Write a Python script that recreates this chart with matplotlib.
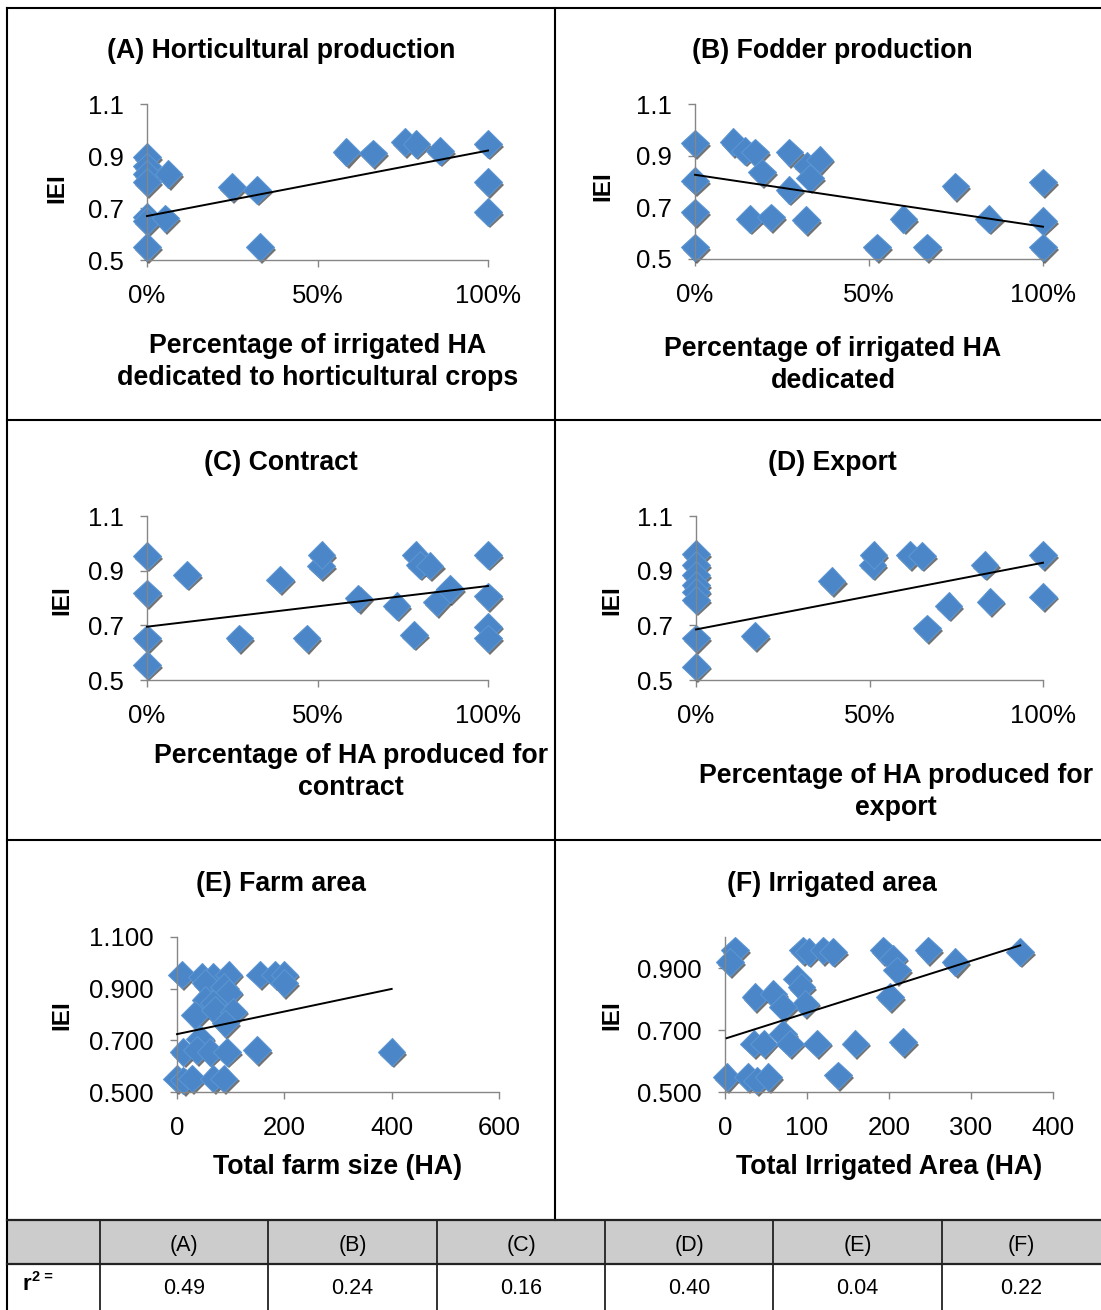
import matplotlib
matplotlib.use('Agg')
import matplotlib.pyplot as plt
import matplotlib.patheffects as pe
from matplotlib.ticker import FixedLocator, FuncFormatter
import numpy as np

plt.rcParams['font.family'] = ['Liberation Sans', 'DejaVu Sans']

# ---------------- data ----------------
A_x = [0, 0, 0, 0, 0.063, 0, 0, 0.054, 0, 0.249, 0.322, 0.332, 0.585, 0.663, 0.756, 0.79, 0.859, 1.0, 1.0, 1.0]
A_y = [0.896, 0.86, 0.83, 0.80, 0.83, 0.666, 0.65, 0.66, 0.55, 0.78, 0.77, 0.55, 0.915, 0.91, 0.953, 0.947, 0.92, 0.947, 0.80, 0.685]
A_fit = (0.669, 0.252)

B_x = [0, 0, 0, 0, 0.11, 0.144, 0.173, 0.192, 0.158, 0.218, 0.271, 0.271, 0.321, 0.358, 0.331, 0.319,
       0.523, 0.599, 0.666, 0.748, 0.844, 1.0, 1.0, 1.0]
B_y = [0.948, 0.803, 0.68, 0.545, 0.952, 0.919, 0.913, 0.835, 0.655, 0.661, 0.913, 0.768, 0.861, 0.885, 0.814, 0.651,
       0.545, 0.655, 0.545, 0.781, 0.655, 0.797, 0.648, 0.545]
B_fit = (0.826, -0.201)

C_x = [0, 0, 0, 0, 0.117, 0.271, 0.39, 0.468, 0.51, 0.512, 0.62, 0.732, 0.783, 0.788, 0.80, 0.829, 0.849, 0.888,
       1.0, 1.0, 1.0, 1.0]
C_y = [0.954, 0.817, 0.652, 0.555, 0.885, 0.652, 0.867, 0.652, 0.918, 0.958, 0.799, 0.771, 0.665, 0.958, 0.921, 0.918,
       0.784, 0.833, 0.958, 0.806, 0.695, 0.652]
C_fit = (0.695, 0.149)

D_x = [0, 0, 0, 0, 0, 0, 0, 0, 0.17, 0.391, 0.509, 0.512, 0.617, 0.651, 0.665, 0.728, 0.832, 0.848, 1.0, 1.0]
D_y = [0.961, 0.921, 0.884, 0.848, 0.823, 0.793, 0.652, 0.549, 0.661, 0.862, 0.921, 0.957, 0.957, 0.954, 0.689, 0.771,
       0.921, 0.787, 0.957, 0.805]
D_fit = (0.685, 0.244)

E_x = [9, 46, 68, 96, 53, 87, 155, 183, 200, 200, 96, 53, 68, 34, 71, 105, 90, 43, 12, 37, 62, 93, 149, 400,
       0, 12, 28, 68, 87]
E_y = [0.954, 0.947, 0.947, 0.954, 0.921, 0.908, 0.954, 0.954, 0.954, 0.921, 0.885, 0.856, 0.843, 0.798, 0.817,
       0.811, 0.766, 0.707, 0.655, 0.662, 0.655, 0.655, 0.662, 0.655, 0.552, 0.545, 0.552, 0.552, 0.552]
E_fit = (0.724, 0.0004375)

F_x = [12, 6, 95, 102, 120, 132, 193, 205, 210, 248, 281, 360, 88, 93, 98, 37, 59, 71, 201, 71, 35, 47, 79, 112,
       159, 217, 2, 28, 39, 53, 138]
F_y = [0.957, 0.919, 0.957, 0.952, 0.957, 0.952, 0.957, 0.930, 0.892, 0.957, 0.919, 0.952, 0.866, 0.839, 0.785,
       0.806, 0.817, 0.774, 0.806, 0.687, 0.656, 0.656, 0.656, 0.656, 0.656, 0.661, 0.548, 0.548, 0.537, 0.548, 0.554]
F_fit = (0.672, 0.000836)

titles = ["(A) Horticultural production", "(B) Fodder production", "(C) Contract",
          "(D) Export", "(E) Farm area", "(F) Irrigated area"]
xlabels = [["Percentage of irrigated HA", "dedicated to horticultural crops"],
           ["Percentage of irrigated HA", "dedicated"],
           ["Percentage of HA produced for", "contract"],
           ["Percentage of HA produced for", "export"],
           ["Total farm size (HA)"],
           ["Total Irrigated Area (HA)"]]
ylabel = "IEI"

table_cols = ["(A)", "(B)", "(C)", "(D)", "(E)", "(F)"]
r2_values = ["0.49", "0.24", "0.16", "0.40", "0.04", "0.22"]

# ---------------- layout ----------------
W, H = 1101, 1310
fig = plt.figure(figsize=(W / 100, H / 100), dpi=100)

def ax_at(x0, x1, y_top, y_bot):
    return fig.add_axes([x0 / W, 1 - y_bot / H, (x1 - x0) / W, (y_bot - y_top) / H])

ov = fig.add_axes([0, 0, 1, 1], zorder=-1)
ov.set_xlim(0, W)
ov.set_ylim(H, 0)
ov.axis('off')

BLUE = '#4a86c8'
GRAY = '#868686'

pct = FuncFormatter(lambda v, p: f"{v * 100:.0f}%")
f1 = FuncFormatter(lambda v, p: f"{v:.1f}")
f3 = FuncFormatter(lambda v, p: f"{v:.3f}")
f0 = FuncFormatter(lambda v, p: f"{v:.0f}")

panels = [
    dict(x=A_x, y=A_y, fit=A_fit, box=(147, 488, 104, 260), xlim=(0, 1), xt=[0, 0.5, 1], xf=pct,
         ylim=(0.5, 1.1), yt=[0.5, 0.7, 0.9, 1.1], yf=f1,
         tpos=(281, 51), lpos=(318, 346), ypos=(57, 188)),
    dict(x=B_x, y=B_y, fit=B_fit, box=(695, 1043, 104, 259), xlim=(0, 1), xt=[0, 0.5, 1], xf=pct,
         ylim=(0.5, 1.1), yt=[0.5, 0.7, 0.9, 1.1], yf=f1,
         tpos=(832, 51), lpos=(833, 349), ypos=(603, 186)),
    dict(x=C_x, y=C_y, fit=C_fit, box=(147, 488, 516, 680), xlim=(0, 1), xt=[0, 0.5, 1], xf=pct,
         ylim=(0.5, 1.1), yt=[0.5, 0.7, 0.9, 1.1], yf=f1,
         tpos=(281, 463), lpos=(351, 756), ypos=(62, 600)),
    dict(x=D_x, y=D_y, fit=D_fit, box=(696, 1043, 516, 680), xlim=(0, 1), xt=[0, 0.5, 1], xf=pct,
         ylim=(0.5, 1.1), yt=[0.5, 0.7, 0.9, 1.1], yf=f1,
         tpos=(832, 463), lpos=(896, 776), ypos=(612, 600)),
    dict(x=E_x, y=E_y, fit=E_fit, box=(177, 499, 937, 1092), xlim=(0, 600), xt=[0, 200, 400, 600], xf=f0,
         ylim=(0.5, 1.1), yt=[0.5, 0.7, 0.9, 1.1], yf=f3,
         tpos=(281, 884), lpos=(338, 1167), ypos=(62, 1015)),
    dict(x=F_x, y=F_y, fit=F_fit, box=(725, 1053, 937, 1092), xlim=(0, 400), xt=[0, 100, 200, 300, 400], xf=f0,
         ylim=(0.5, 1.0), yt=[0.5, 0.7, 0.9], yf=f3,
         tpos=(832, 884), lpos=(889, 1167), ypos=(612, 1015)),
]

shadow = [pe.SimplePatchShadow(offset=(1.5, -2.0), shadow_rgbFace='black', alpha=0.55), pe.Normal()]

for i, p in enumerate(panels):
    ax = ax_at(*p['box'])
    ax.set_xlim(*p['xlim'])
    ax.set_ylim(*p['ylim'])
    ax.patch.set_alpha(0)
    for s in ['top', 'right']:
        ax.spines[s].set_visible(False)
    for s in ['left', 'bottom']:
        ax.spines[s].set_color(GRAY)
        ax.spines[s].set_linewidth(1.0)
    ax.xaxis.set_major_locator(FixedLocator(p['xt']))
    ax.yaxis.set_major_locator(FixedLocator(p['yt']))
    ax.xaxis.set_major_formatter(p['xf'])
    ax.yaxis.set_major_formatter(p['yf'])
    ax.tick_params(direction='out', length=5, width=1.0, color=GRAY, labelsize=18.5, pad=12,
                   labelcolor='black')
    ax.plot(p['x'], p['y'], linestyle='none', marker='D', ms=14, mfc=BLUE, mec='#5b95d3',
            mew=0.8, clip_on=False, zorder=2, path_effects=shadow)
    xs = np.array([min(p['x']), max(p['x'])], dtype=float)
    b0, b1 = p['fit']
    ax.plot(xs, b0 + b1 * xs, color='black', lw=1.4, zorder=3, clip_on=False)

    ov.text(p['tpos'][0], p['tpos'][1], titles[i], ha='center', va='center',
            fontsize=19.2, fontweight='bold')
    for j, line in enumerate(xlabels[i]):
        ov.text(p['lpos'][0], p['lpos'][1] + j * 32, line, ha='center', va='center',
                fontsize=19.3, fontweight='bold')
    ov.text(p['ypos'][0], p['ypos'][1], ylabel, ha='center', va='center', rotation=90,
            fontsize=17.5, fontweight='bold')

# ---------------- frame lines ----------------
LC = 'black'
ov.plot([7, 7], [8, 1310], color=LC, lw=1.5)
ov.plot([7, 1101], [8, 8], color=LC, lw=1.5)
ov.plot([555, 555], [8, 1220], color=LC, lw=1.5)
ov.plot([7, 1101], [420, 420], color=LC, lw=1.5)
ov.plot([7, 1101], [840, 840], color=LC, lw=1.5)

# ---------------- table ----------------
col_edges = [7, 100, 268, 437, 605, 773, 942, 1101]
TC = '#222222'
ov.fill_between([7, 1101], 1220, 1264, color='#cccccc', lw=0)
ov.plot([7, 1101], [1220, 1220], color=TC, lw=1.6)
ov.plot([7, 1101], [1264, 1264], color=TC, lw=1.6)
for xe in col_edges[1:-1]:
    ov.plot([xe, xe], [1220, 1310], color=TC, lw=1.3)
tfont = ['Liberation Sans Narrow', 'Liberation Sans', 'DejaVu Sans']
for k in range(6):
    cx = (col_edges[k + 1] + col_edges[k + 2]) / 2
    ov.text(cx, 1245, table_cols[k], ha='center', va='center', fontsize=15.5, family=tfont)
    ov.text(cx, 1288, r2_values[k], ha='center', va='center', fontsize=15.5, family=tfont)
ov.text(23, 1290, "r", ha='left', va='baseline', fontsize=16, fontweight='bold', family=tfont)
ov.text(32, 1281, "2 =", ha='left', va='baseline', fontsize=10.5, fontweight='bold', family=tfont)

fig.savefig('out.png', dpi=100)
